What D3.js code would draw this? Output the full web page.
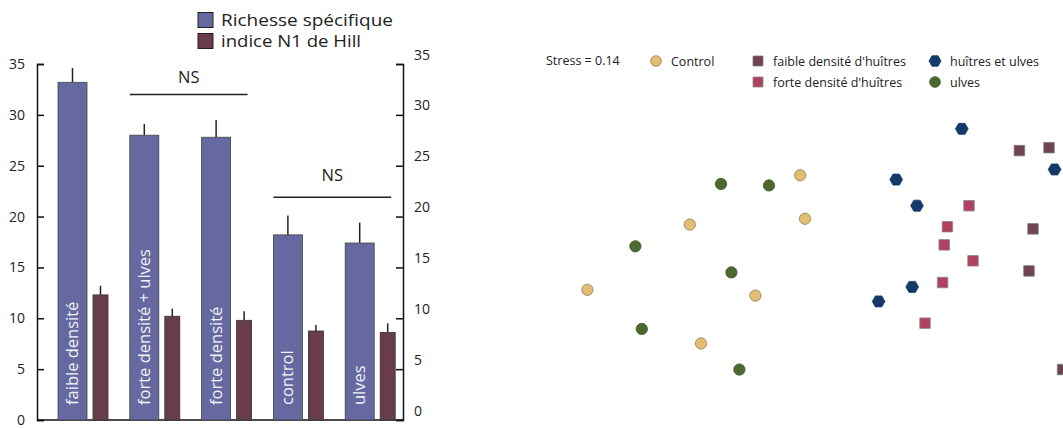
<!DOCTYPE html>
<html>
<head>
<meta charset="utf-8">
<script src="https://cdn.jsdelivr.net/npm/d3@7"></script>
<style>
  body { margin: 0; background: #fff; }
  svg text { font-family: "Open Sans", sans-serif; fill: #222; }
</style>
</head>
<body>
<svg width="1063" height="428"></svg>
<script>
// bar chart data
var categories = ["faible densité", "forte densité + ulves", "forte densité", "control", "ulves"];
var richesse = [33.2, 28.0, 27.8, 18.2, 17.4];
var richesseErr = [1.4, 1.1, 1.7, 1.9, 2.0];
var hill = [12.3, 10.2, 9.8, 8.75, 8.6];
var hillErr = [0.9, 0.75, 0.9, 0.6, 0.9];
var yTicks = [0, 5, 10, 15, 20, 25, 30, 35];
var nsGroups = [
  { label: "NS", from: 1, to: 2, line: 32.0, text: 33.6 },
  { label: "NS", from: 3, to: 4, line: 21.9, text: 23.9 }
];

// NMDS data
var controlPts = [[-0.08, 0.55], [-0.05, 0.25], [-0.77, 0.21], [-1.41, -0.24], [-0.36, -0.28], [-0.70, -0.61]];
var ulvesPts = [[-0.575, 0.49], [-0.275, 0.48], [-1.11, 0.06], [-0.51, -0.12], [-1.07, -0.51], [-0.46, -0.79]];
var huitresUlvesPts = [[0.93, 0.87], [0.52, 0.52], [1.51, 0.59], [0.65, 0.34], [0.62, -0.22], [0.41, -0.32]];
var faiblePts = [[1.29, 0.72], [1.475, 0.74], [1.375, 0.18], [1.35, -0.11], [1.56, -0.79]];
var fortePts = [[0.975, 0.34], [0.84, 0.195], [0.82, 0.07], [1.00, -0.04], [0.81, -0.19], [0.70, -0.47]];
var stress = 0.14;

var svg = d3.select("svg");
var blue = "#65699f", maroon = "#693c4a";

// ---------- left: bar chart ----------
var y = d3.scaleLinear().domain([0, 35]).range([420, 64]);
var x0 = d3.scaleBand().domain(categories).range([58, 58 + 5 * 71.8]);

var g = svg.append("g");

// axes
g.append("g").attr("transform", "translate(37,0)")
  .call(d3.axisLeft(y).tickValues(yTicks).tickSize(-7).tickPadding(12))
  .call(function(a) {
    a.select(".domain").attr("stroke", "#111").attr("stroke-width", 1.5);
    a.selectAll(".tick line").attr("stroke", "#111").attr("stroke-width", 1.5);
    a.selectAll("text").style("font-size", "14px").attr("fill", "#222");
  });

g.append("g").attr("transform", "translate(403,0)")
  .call(d3.axisRight(y).tickValues(yTicks).tickSize(-7).tickPadding(11))
  .call(function(a) {
    a.select(".domain").attr("stroke", "#111").attr("stroke-width", 1.5);
    a.selectAll(".tick line").attr("stroke", "#111").attr("stroke-width", 1.5);
    a.selectAll("text").style("font-size", "14px").attr("fill", "#222").attr("dy", "-0.35em");
  });

g.append("line").attr("x1", 37).attr("x2", 403).attr("y1", y(0)).attr("y2", y(0))
  .attr("stroke", "#111").attr("stroke-width", 1.5);

var bw = 29, hw = 15, hoff = 35;

// error bars (drawn under bars)
g.selectAll(".errR").data(categories).enter().append("line")
  .attr("x1", function(d) { return x0(d) + bw / 2; })
  .attr("x2", function(d) { return x0(d) + bw / 2; })
  .attr("y1", function(d, i) { return y(richesse[i]); })
  .attr("y2", function(d, i) { return y(richesse[i] + richesseErr[i]); })
  .attr("stroke", "#222").attr("stroke-width", 1.5);
g.selectAll(".errH").data(categories).enter().append("line")
  .attr("x1", function(d) { return x0(d) + hoff + hw / 2; })
  .attr("x2", function(d) { return x0(d) + hoff + hw / 2; })
  .attr("y1", function(d, i) { return y(hill[i]); })
  .attr("y2", function(d, i) { return y(hill[i] + hillErr[i]); })
  .attr("stroke", "#222").attr("stroke-width", 1.5);

g.selectAll(".barR").data(categories).enter().append("rect")
  .attr("x", function(d) { return x0(d); })
  .attr("y", function(d, i) { return y(richesse[i]); })
  .attr("width", bw)
  .attr("height", function(d, i) { return y(0) - y(richesse[i]); })
  .attr("fill", blue).attr("stroke", "#444").attr("stroke-width", 0.8);

g.selectAll(".barH").data(categories).enter().append("rect")
  .attr("x", function(d) { return x0(d) + hoff; })
  .attr("y", function(d, i) { return y(hill[i]); })
  .attr("width", hw)
  .attr("height", function(d, i) { return y(0) - y(hill[i]); })
  .attr("fill", maroon).attr("stroke", "#333").attr("stroke-width", 0.8);

// labels inside bars
g.selectAll(".lab").data(categories).enter().append("text")
  .attr("transform", function(d) { return "translate(" + (x0(d) + bw / 2 + 1) + "," + (y(0) - 15) + ") rotate(-90)"; })
  .attr("dominant-baseline", "middle")
  .style("font-size", "16.5px")
  .style("fill", "#f2f2f7")
  .text(function(d) { return d; });

// NS annotations
nsGroups.forEach(function(n) {
  var xa = x0(categories[n.from]), xb = x0(categories[n.to]) + hoff + hw - 4;
  g.append("line").attr("x1", xa).attr("x2", xb).attr("y1", y(n.line)).attr("y2", y(n.line))
    .attr("stroke", "#222").attr("stroke-width", 1.3);
  g.append("text").attr("x", (xa + xb) / 2).attr("y", y(n.text))
    .attr("text-anchor", "middle").attr("dominant-baseline", "middle")
    .style("font-size", "16.5px").text(n.label);
});

// legend
var leg = [{ t: "Richesse spécifique", c: blue }, { t: "indice N1 de Hill", c: maroon }];
leg.forEach(function(l, i) {
  svg.append("rect").attr("x", 198).attr("y", 12.5 + i * 21).attr("width", 15).attr("height", 15)
    .attr("fill", l.c).attr("stroke", "#222").attr("stroke-width", 1);
  svg.append("text").attr("x", 221).attr("y", 26 + i * 21).style("font-size", "16.5px")
    .attr("textLength", i === 0 ? 172 : 140).attr("lengthAdjust", "spacingAndGlyphs").text(l.t);
});

// ---------- right: NMDS ----------
var sx = d3.scaleLinear().domain([-1.5, 1.5]).range([573, 1053]);
var sy = d3.scaleLinear().domain([-1, 1]).range([400, 110]);

var hexagon = {
  draw: function(ctx, size) {
    var r = Math.sqrt(size / (1.5 * Math.sqrt(3)));
    for (var k = 0; k < 6; k++) {
      var a = Math.PI / 3 * k;
      var px = r * Math.cos(a), py = r * Math.sin(a);
      if (k === 0) ctx.moveTo(px, py); else ctx.lineTo(px, py);
    }
    ctx.closePath();
  }
};

var groups = [
  { name: "Control", pts: controlPts, sym: d3.symbolCircle, size: 100, fill: "#e3bd72", stroke: "#8a7a5a" },
  { name: "ulves", pts: ulvesPts, sym: d3.symbolCircle, size: 100, fill: "#4d6a2d", stroke: "#3c4f28" },
  { name: "huîtres et ulves", pts: huitresUlvesPts, sym: hexagon, size: 105, fill: "#143a68", stroke: "#143a68" },
  { name: "faible densité d'huîtres", pts: faiblePts, sym: d3.symbolSquare, size: 110, fill: "#714352", stroke: "#777" },
  { name: "forte densité d'huîtres", pts: fortePts, sym: d3.symbolSquare, size: 110, fill: "#b14160", stroke: "#888" }
];

groups.forEach(function(gr) {
  svg.append("g").selectAll("path").data(gr.pts).enter().append("path")
    .attr("transform", function(d) { return "translate(" + sx(d[0]) + "," + sy(d[1]) + ")"; })
    .attr("d", d3.symbol().type(gr.sym).size(gr.size))
    .attr("fill", gr.fill).attr("stroke", gr.stroke).attr("stroke-width", 0.8);
});

// NMDS legend
svg.append("text").attr("x", 546).attr("y", 65).style("font-size", "12.5px").text("Stress = " + stress);
var legPos = [
  { gi: 0, x: 656, y: 61 },
  { gi: 3, x: 758, y: 61 },
  { gi: 4, x: 758, y: 82 },
  { gi: 2, x: 935, y: 61 },
  { gi: 1, x: 935, y: 82 }
];
legPos.forEach(function(p) {
  var gr = groups[p.gi];
  svg.append("path").attr("transform", "translate(" + p.x + "," + p.y + ")")
    .attr("d", d3.symbol().type(gr.sym).size(gr.size * 0.9))
    .attr("fill", gr.fill).attr("stroke", gr.stroke).attr("stroke-width", 0.8);
  svg.append("text").attr("x", p.x + 15).attr("y", p.y + 4.5).style("font-size", "12.5px").text(gr.name);
});
</script>
</body>
</html>
